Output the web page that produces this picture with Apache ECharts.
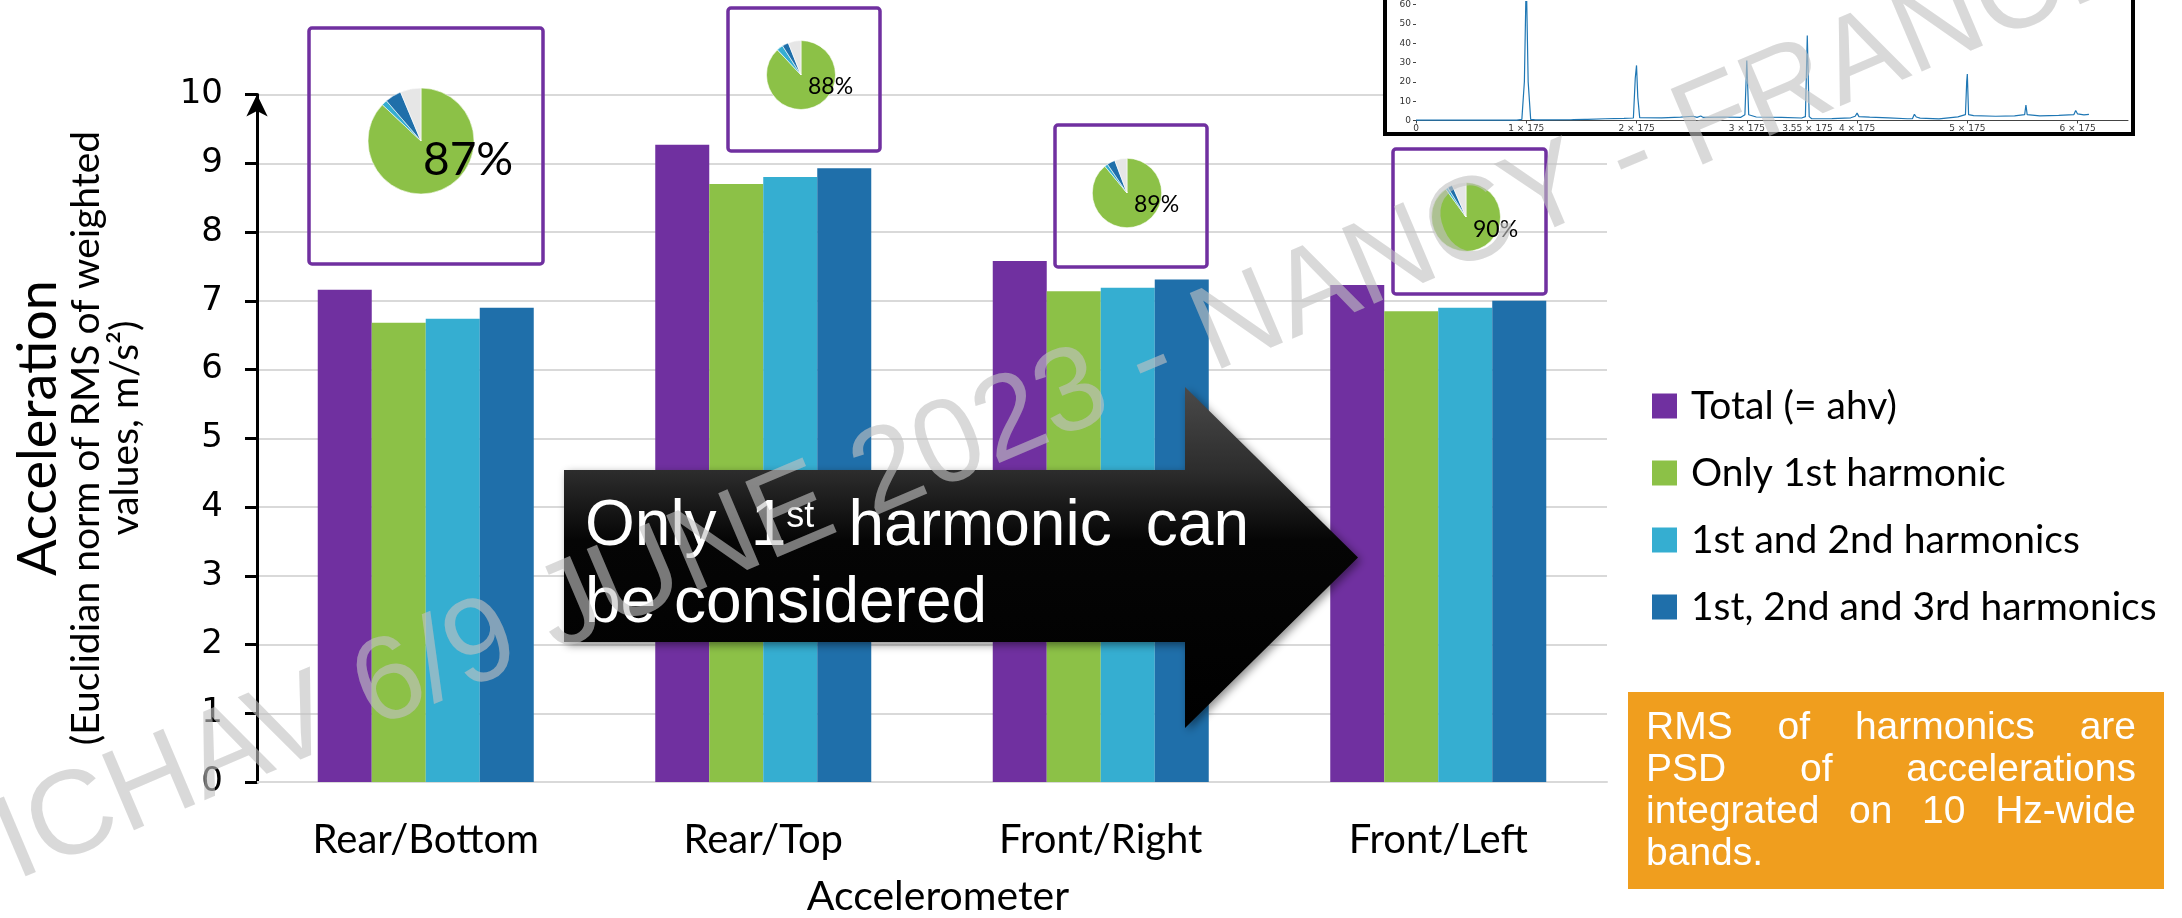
<!DOCTYPE html>
<html>
<head>
<meta charset="utf-8">
<script src="https://cdn.jsdelivr.net/npm/echarts@6/dist/echarts.min.js"></script>
<style>
  html, body { margin: 0; padding: 0; background: #ffffff; }
  #chart { width: 2182px; height: 918px; }
</style>
</head>
<body>
<div id="chart"></div>
<script>
// ---- data -------------------------------------------------------------
const categories = ['Rear/Bottom', 'Rear/Top', 'Front/Right', 'Front/Left'];
const seriesNames = ['Total (= ahv)', 'Only 1st harmonic', '1st and 2nd harmonics', '1st, 2nd and 3rd harmonics'];
const totalValues      = [7.16, 9.27, 7.58, 7.23];
const firstHarmonic    = [6.68, 8.70, 7.14, 6.85];
const firstSecond      = [6.74, 8.80, 7.19, 6.90];
const firstSecondThird = [6.90, 8.93, 7.31, 7.00];

// share of each harmonic in the total, per accelerometer (percent)
const pieFirst  = [87, 88, 89, 90];
const pieSecond = [1.7, 3.0, 1.5, 1.2];
const pieThird  = [5.0, 3.0, 3.8, 2.3];
const pieRest   = [6.3, 6.0, 5.7, 6.5];

// acceleration spectrum (Hz, amplitude)
const spectrumFreq = [0, 160, 168, 172, 175, 178, 182, 190, 240, 246, 248, 250, 268, 270, 272, 300, 330, 345, 348, 350, 352, 355,
  390, 420, 440, 446, 452, 456, 490, 515, 522, 525, 528, 540, 580, 612, 618, 621, 624, 628, 660, 690, 697, 700, 703, 720, 750,
  780, 788, 791, 794, 797, 800, 830, 860, 872, 874, 875, 877, 885, 920, 950, 966, 968, 970, 990, 1020, 1044, 1047, 1050, 1060, 1068];
const spectrumAmp = [0.2, 0.2, 0.6, 20, 75, 20, 0.6, 0.3, 0.4, 0.4, 1.2, 0.5, 0.6, 1.2, 0.6, 0.9, 1.1, 1.3, 22, 28.5, 12, 1.5,
  1.4, 1.7, 2.2, 1.6, 2.3, 1.6, 1.8, 1.6, 3, 31, 3, 1.8, 1.6, 1.3, 2, 44, 2, 0.9, 1.0, 1.4, 2.2, 3.8, 2.0, 1.7, 1.4,
  0.9, 1.0, 3.2, 1.8, 2.8, 1.2, 0.8, 1.9, 3, 20, 24, 3, 2.5, 2.2, 2.4, 3, 8, 3, 2.4, 2.6, 3, 5.2, 3.4, 2.9, 3.2];
const harmonicTicks = [0, 175, 350, 525, 621.25, 700, 875, 1050];
const harmonicTickLabels = ['0', '1 × 175', '2 × 175', '3 × 175', '3.55 × 175', '4 × 175', '5 × 175', '6 × 175'];
const amplitudeTicks = [0, 10, 20, 30, 40, 50, 60];

const yTickLabels = ['0', '1', '2', '3', '4', '5', '6', '7', '8', '9', '10'];

// ---- styling ------------------------------------------------------------
const COLORS = ['#7030A0', '#8CC147', '#35AED1', '#1F6FAA'];
const PIE_REST = '#E6E6E6';
const CAL = 'Lato, "Open Sans", sans-serif';
const ARIAL = '"Liberation Sans", Arial, sans-serif';
const VERD = '"DejaVu Sans", Verdana, sans-serif';

const measureCtx = document.createElement('canvas').getContext('2d');
function textWidth(str, size, family) {
  measureCtx.font = size + 'px ' + family;
  return measureCtx.measureText(str).width;
}
function textEl(x, y, str, size, family, fill, opts) {
  opts = opts || {};
  return {
    type: 'text', x: x, y: y, z: opts.z || 20, rotation: opts.rotation || 0, silent: true,
    style: {
      text: str, font: size + 'px ' + family, fill: fill,
      align: opts.align || 'left', verticalAlign: opts.vAlign || 'middle'
    }
  };
}
// words spread so that the line fills [x0, x1]; each word is a list of [text, size, dy]
function justifiedLine(words, x0, x1, y, family, fill, z) {
  const widths = words.map(w => w.reduce((s, p) => s + textWidth(p[0], p[1], family), 0));
  const gap = words.length > 1 ? (x1 - x0 - widths.reduce((a, b) => a + b, 0)) / (words.length - 1) : 0;
  const out = [];
  let x = x0;
  words.forEach((w, i) => {
    let px = x;
    w.forEach(p => {
      out.push(textEl(px, y + (p[2] || 0), p[0], p[1], family, fill, { z: z }));
      px += textWidth(p[0], p[1], family);
    });
    x += widths[i] + gap;
  });
  return out;
}

// ---- layout of the overlays -----------------------------------------------
const pieLayout = [
  { box: [309, 28, 234, 236], center: [421, 141], r: 53,   label: [423, 160], size: 46 },
  { box: [728, 8, 152, 143],  center: [801, 75],  r: 34.5, label: [808, 87],  size: 23 },
  { box: [1055, 125, 152, 142], center: [1127, 193], r: 34.7, label: [1134, 205], size: 23 },
  { box: [1393, 149, 153, 145], center: [1466, 217], r: 34.5, label: [1473, 230], size: 23 }
];

const graphics = [];

// frame around the spectrum inset
graphics.push({
  type: 'rect', z: 1, silent: true,
  shape: { x: 1385, y: -10, width: 748, height: 144 },
  style: { fill: '#ffffff', stroke: '#000000', lineWidth: 4 }
});

// boxes and percentage labels around the pies
pieLayout.forEach((p, i) => {
  graphics.push({
    type: 'rect', z: 6, silent: true,
    shape: { x: p.box[0], y: p.box[1], width: p.box[2], height: p.box[3], r: 3 },
    style: { fill: 'none', stroke: '#7030A0', lineWidth: 3.5 }
  });
  graphics.push(textEl(p.label[0], p.label[1], pieFirst[i] + '%', p.size, CAL, '#000000', { z: 8 }));
});

// big black arrow
graphics.push({
  type: 'polygon', z: 12, silent: true,
  shape: { points: [[564, 470], [1185, 470], [1185, 387], [1358, 557.5], [1185, 728], [1185, 642], [564, 642]] },
  style: {
    fill: new echarts.graphic.LinearGradient(0, 0, 0, 1, [
      { offset: 0, color: '#4a4a4a' }, { offset: 0.25, color: '#2c2c2c' },
      { offset: 0.45, color: '#050505' }, { offset: 1, color: '#000000' }
    ]),
    shadowColor: 'rgba(0,0,0,0.45)', shadowBlur: 8, shadowOffsetX: 3, shadowOffsetY: 3
  }
});
justifiedLine([[['Only', 64]], [['1', 64], ['st', 36, -10]], [['harmonic', 64]], [['can', 64]]],
  585, 1249, 527, ARIAL, '#ffffff', 14).forEach(e => graphics.push(e));
graphics.push(textEl(585, 604, 'be considered', 64, ARIAL, '#ffffff', { z: 14 }));

// orange note
graphics.push({
  type: 'rect', z: 12, silent: true,
  shape: { x: 1628, y: 692, width: 536, height: 197 },
  style: { fill: '#F09E1E' }
});
const noteLines = [['RMS', 'of', 'harmonics', 'are'], ['PSD', 'of', 'accelerations'], ['integrated', 'on', '10', 'Hz-wide']];
const noteY = [728, 770, 812, 854];
noteLines.forEach((ws, i) => {
  justifiedLine(ws.map(w => [[w, 39]]), 1646, 2136, noteY[i], ARIAL, '#ffffff', 14).forEach(e => graphics.push(e));
});
graphics.push(textEl(1646, noteY[3], 'bands.', 39, ARIAL, '#ffffff', { z: 14 }));

// axis titles
graphics.push(textEl(39, 428, 'Acceleration', 54, CAL, '#000000', { rotation: Math.PI / 2, align: 'center' }));
graphics.push(textEl(86, 438, '(Euclidian norm of RMS of weighted', 39, CAL, '#000000', { rotation: Math.PI / 2, align: 'center' }));
graphics.push(textEl(125, 428, 'values, m/s²)', 39, CAL, '#000000', { rotation: Math.PI / 2, align: 'center' }));
graphics.push(textEl(938, 897, 'Accelerometer', 41, CAL, '#000000', { align: 'center' }));

// conference stamp across the slide
graphics.push(textEl(26, 905, 'ICHAV 6/9 JUNE 2023 - NANCY - FRANCE', 119, ARIAL, 'rgba(194,194,194,0.62)',
  { rotation: 23 * Math.PI / 180, vAlign: 'bottom', z: 40 }));

// ---- chart ----------------------------------------------------------------
const barData = [totalValues, firstHarmonic, firstSecond, firstSecondThird];
const series = barData.map((vals, i) => ({
  name: seriesNames[i], type: 'bar', xAxisIndex: 0, yAxisIndex: 0,
  data: vals, barWidth: 54, barGap: '0%', silent: true,
  itemStyle: { color: COLORS[i] }
}));

pieLayout.forEach((p, i) => {
  series.push({
    type: 'pie', center: p.center, radius: p.r, startAngle: 90, clockwise: true,
    silent: true, z: 5, label: { show: false }, labelLine: { show: false },
    itemStyle: { borderColor: '#ffffff', borderWidth: 0.6 },
    data: [
      { value: pieFirst[i], itemStyle: { color: COLORS[1] } },
      { value: pieSecond[i], itemStyle: { color: COLORS[2] } },
      { value: pieThird[i], itemStyle: { color: COLORS[3] } },
      { value: pieRest[i], itemStyle: { color: PIE_REST } }
    ]
  });
});

series.push({
  type: 'line', xAxisIndex: 1, yAxisIndex: 1, z: 4, silent: true,
  showSymbol: false, symbol: 'none',
  data: spectrumFreq.map((f, i) => [f, spectrumAmp[i]]),
  lineStyle: { color: '#1F77B4', width: 1.2 }
});

const option = {
  animation: false,
  backgroundColor: '#ffffff',
  grid: [
    { left: 257, right: 575, top: 94.6, bottom: 136 },
    { left: 1416, right: 54, top: 0, bottom: 797.5 }
  ],
  legend: {
    data: seriesNames, orient: 'vertical', left: 1647, top: 381,
    icon: 'rect', itemWidth: 25, itemHeight: 25, itemGap: 27,
    textStyle: { fontFamily: CAL, fontSize: 39, color: '#000000', lineHeight: 40, padding: [0, 0, 0, 9] },
    selectedMode: false
  },
  xAxis: [
    {
      type: 'category', gridIndex: 0, data: categories,
      axisLine: { lineStyle: { color: '#D9D9D9', width: 2 } },
      axisTick: { show: false },
      axisLabel: { fontFamily: CAL, fontSize: 40, color: '#000000', margin: 38 }
    },
    {
      type: 'value', gridIndex: 1, min: 0, max: 1130, z: 3,
      axisLine: { lineStyle: { color: '#444444', width: 1 } },
      axisTick: { customValues: harmonicTicks, length: 3, lineStyle: { color: '#444444' } },
      axisLabel: {
        customValues: harmonicTicks, fontFamily: VERD, fontSize: 9, color: '#333333', margin: 4,
        formatter: v => harmonicTickLabels[harmonicTicks.indexOf(v)]
      },
      splitLine: { show: false }
    }
  ],
  yAxis: [
    {
      type: 'value', gridIndex: 0, min: 0, max: 10, interval: 1,
      axisLine: { show: true, lineStyle: { color: '#000000', width: 3 }, symbol: ['none', 'arrow'], symbolSize: [16, 22] },
      axisTick: { show: true, length: 12, lineStyle: { color: '#000000', width: 3 } },
      axisLabel: { fontFamily: VERD, fontSize: 34, color: '#000000', margin: 34, formatter: v => yTickLabels[v] },
      splitLine: { lineStyle: { color: '#D9D9D9', width: 2 } }
    },
    {
      type: 'value', gridIndex: 1, min: 0, max: 61.5, z: 3,
      axisLine: { show: false },
      axisTick: { show: true, customValues: amplitudeTicks, length: 3, lineStyle: { color: '#444444' } },
      axisLabel: { customValues: amplitudeTicks, fontFamily: VERD, fontSize: 9, color: '#333333', margin: 5 },
      splitLine: { show: false }
    }
  ],
  graphic: { elements: graphics },
  series: series
};

const chart = echarts.init(document.getElementById('chart'), null, { renderer: 'canvas' });
chart.setOption(option);
</script>
</body>
</html>
